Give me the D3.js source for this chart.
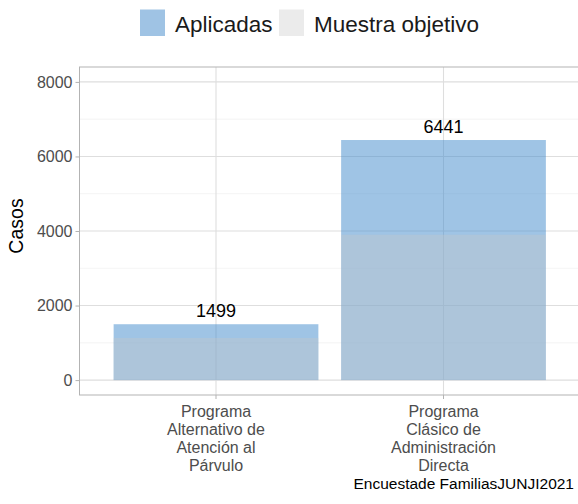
<!DOCTYPE html>
<html><head><meta charset="utf-8">
<script src="https://cdn.jsdelivr.net/npm/d3@7"></script>
<style>
body{margin:0;background:#fff;}
svg{font-family:"Liberation Sans",Arial,sans-serif;display:block;}
</style></head>
<body><svg id="c" width="578" height="504"></svg>
<script>
const categories = [
  ["Programa","Alternativo de","Atención al","Párvulo"],
  ["Programa","Clásico de","Administración","Directa"]
];
const catKeys = ["PAAP","PCAD"];
const aplicadas = [1499, 6441];
const muestraObjetivo = [1130, 3900];
const yTicks = [0, 2000, 4000, 6000, 8000];
const yMinor = [1000, 3000, 5000, 7000];
const seriesNames = ["Aplicadas", "Muestra objetivo"];
const caption = "Encuestade FamiliasJUNJI2021";

const svg = d3.select("#c");
const L = 79.5, R = 580, T = 67, B = 395;

const x = d3.scaleBand().domain(catKeys).range([L, R]).paddingInner(0.1).paddingOuter(0.15);
const y = d3.scaleLinear().domain([-400, 8400]).range([B, T]);

const xc = k => x(k) + x.bandwidth()/2;

// gridlines
const g = svg.append("g");
g.selectAll(".mi").data(yMinor).join("line")
  .attr("x1", L).attr("x2", R).attr("y1", d=>y(d)).attr("y2", d=>y(d))
  .attr("stroke", "#efefef").attr("stroke-width", 0.7);
g.selectAll(".ma").data(yTicks).join("line")
  .attr("x1", L).attr("x2", R).attr("y1", d=>y(d)).attr("y2", d=>y(d))
  .attr("stroke", "#dedede").attr("stroke-width", 1.1);
g.selectAll(".vx").data(catKeys).join("line")
  .attr("x1", d=>xc(d)).attr("x2", d=>xc(d)).attr("y1", T).attr("y2", B)
  .attr("stroke", "#dedede").attr("stroke-width", 1.1);

// bars
svg.append("g").selectAll("rect").data(catKeys).join("rect")
  .attr("x", d=>x(d)).attr("width", x.bandwidth())
  .attr("y", (d,i)=>y(aplicadas[i])).attr("height", (d,i)=>y(0)-y(aplicadas[i]))
  .attr("fill", "#3f8acb").attr("fill-opacity", 0.5);
svg.append("g").selectAll("rect").data(catKeys).join("rect")
  .attr("x", d=>x(d)).attr("width", x.bandwidth())
  .attr("y", (d,i)=>y(muestraObjetivo[i])).attr("height", (d,i)=>y(0)-y(muestraObjetivo[i]))
  .attr("fill", "#c8c8c8").attr("fill-opacity", 0.36);

// value labels
svg.append("g").selectAll("text").data(catKeys).join("text")
  .attr("x", d=>xc(d)).attr("y", (d,i)=>y(aplicadas[i]) - 7)
  .attr("text-anchor", "middle").attr("font-size", 18).attr("fill", "#000")
  .text((d,i)=>aplicadas[i]);

// panel border
svg.append("rect").attr("x", L).attr("y", T).attr("width", R-L).attr("height", B-T)
  .attr("fill", "none").attr("stroke", "#b3b3b3").attr("stroke-width", 1);

// y axis
const ya = svg.append("g").attr("transform", `translate(${L},0)`)
  .call(d3.axisLeft(y).tickValues(yTicks).tickSize(4).tickPadding(3).tickFormat(d3.format("d")));
ya.select(".domain").remove();
ya.selectAll(".tick line").attr("stroke", "#b3b3b3");
ya.selectAll(".tick text").attr("fill", "#4d4d4d").attr("font-size", 16).attr("font-family", "Liberation Sans, Arial, sans-serif");

// x axis
const xa = svg.append("g").attr("transform", `translate(0,${B})`)
  .call(d3.axisBottom(x).tickSize(4).tickFormat(""));
xa.select(".domain").remove();
xa.selectAll(".tick line").attr("stroke", "#b3b3b3");
const xl = svg.append("g");
catKeys.forEach((k,i)=>{
  const t = xl.append("text").attr("x", xc(k)).attr("y", 417)
    .attr("text-anchor","middle").attr("font-size", 16).attr("fill","#4d4d4d");
  categories[i].forEach((ln,j)=>{
    t.append("tspan").attr("x", xc(k)).attr("dy", j===0?0:18).text(ln);
  });
});

// y title
svg.append("text").attr("transform", "translate(23,226) rotate(-90)")
  .attr("text-anchor","middle").attr("font-size", 19.5).attr("fill","#000").text("Casos");

// legend
const legX = [140, 279], legTextX = [175, 314];
const legFill = ["#9fc3e4", "#ebebeb"];
seriesNames.forEach((s,i)=>{
  svg.append("rect").attr("x", legX[i]).attr("y", 9.5).attr("width", 25).attr("height", 26.5).attr("fill", legFill[i]);
  svg.append("text").attr("x", legTextX[i]).attr("y", 32).attr("font-size", 22.5).attr("fill","#1a1a1a").text(s);
});

// caption
svg.append("text").attr("x", 574).attr("y", 489).attr("font-size", 15.5).attr("fill","#000")
  .attr("text-anchor", "end").text(caption);
</script>
</body></html>
